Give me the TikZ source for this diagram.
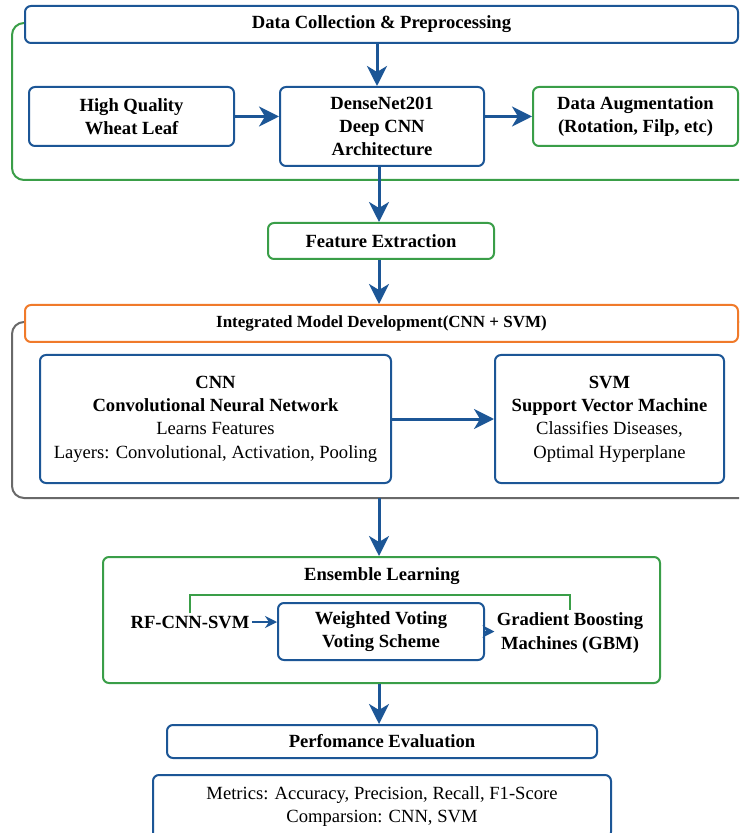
\documentclass[tikz,border=0pt]{standalone}
\usepackage{fontspec}
\setmainfont{Liberation Serif}
\usepackage{xcolor}
\usetikzlibrary{positioning, arrows.meta}

\definecolor{flowblue}{RGB}{28,86,150}
\definecolor{flowgreen}{RGB}{58,158,72}
\definecolor{floworange}{RGB}{240,122,42}
\definecolor{flowgray}{RGB}{105,105,105}
\newcommand{\flowfont}{\fontsize{9.3pt}{11.7pt}\selectfont}

\begin{document}
\begin{tikzpicture}[
x=0.5pt, y=-0.5pt,
box/.style={rectangle, draw=flowblue, fill=white, line width=1pt, rounded corners=3pt, align=center, inner sep=2pt, font=\flowfont\bfseries},
gbox/.style={box, draw=flowgreen},
obox/.style={box, draw=floworange},
txt/.style={align=center, inner sep=1pt, font=\flowfont\bfseries},
outer/.style={draw=#1, line width=1pt, rounded corners=6pt},
arrow/.style={-{Stealth[length=10pt,width=10pt,inset=3pt]}, line width=1.5pt, flowblue},
sarrow/.style={-{Stealth[length=6pt,width=6pt,inset=2pt]}, line width=1pt, flowblue},
bracket/.style={flowgreen, line width=1pt}
]
\useasboundingbox (0,0) rectangle (739,833);
\clip (0,0) rectangle (739,833);

% Contenedores
\draw[outer=flowgreen] (12,23) rectangle (790,180);
\draw[outer=flowgray] (12,322) rectangle (790,498);
\coordinate (imdbot) at (379,498);

% Nivel 1 - Datos
\node[box, minimum width=356.5pt, minimum height=18.5pt] (collect) at (381.5,24.5) {Data Collection \& Preprocessing};

% Nivel 2 - Preprocesado
\node[box, minimum width=102.5pt, minimum height=29.5pt] (hq) at (131.5,116.5) {High Quality\\ Wheat Leaf};
\node[box, minimum width=102pt, minimum height=39.5pt] (dense) at (382,126.5) {DenseNet201\\ Deep CNN\\ Architecture};
\node[gbox, minimum width=102.5pt, minimum height=29.5pt] (aug) at (635.5,116.5) {Data Augmentation\\ (Rotation, Filp, etc)};

% Nivel 3 - Caracteristicas
\node[gbox, minimum width=113pt, minimum height=18pt] (feat) at (381,241) {Feature Extraction};

% Nivel 4 - Modelo integrado
\node[obox, minimum width=356.5pt, minimum height=18.5pt, font=\fontsize{8.5pt}{10pt}\selectfont\bfseries] (integ) at (381.5,323.5) {Integrated Model Development(CNN + SVM)};
\node[box, minimum width=175.5pt, minimum height=64pt, font=\flowfont] (cnn) at (215.5,419) {\textbf{CNN}\\ \textbf{Convolutional Neural Network}\\ Learns Features\\ Layers: Convolutional, Activation, Pooling};
\node[box, minimum width=114.5pt, minimum height=64pt, font=\flowfont] (svm) at (609.5,419) {\textbf{SVM}\\ \textbf{Support Vector Machine}\\ Classifies Diseases,\\ Optimal Hyperplane};

% Nivel 5 - Ensemble
\node[gbox, minimum width=278.5pt, minimum height=63pt] (ens) at (381.5,620) {};
\node[txt] (enstitle) at (382,576) {Ensemble Learning};
\node[txt] (rf) at (190,622) {RF-CNN-SVM};
\node[box, minimum width=103pt, minimum height=28.5pt] (vote) at (381,631.5) {Weighted Voting\\ Voting Scheme};
\node[txt] (gbm) at (570,633) {Gradient Boosting\\ Machines (GBM)};

% Nivel 6 - Evaluacion
\node[box, minimum width=215pt, minimum height=16.5pt] (perf) at (382,741.5) {Perfomance Evaluation};
\node[box, minimum width=229pt, minimum height=31.5pt, font=\flowfont] (metr) at (382,806.5) {Metrics: Accuracy, Precision, Recall, F1-Score\\ Comparsion: CNN, SVM};

% Flechas
\draw[arrow] (collect.south -| 377,0) -- (dense.north -| 377,0);
\draw[arrow] (hq.east) -- (hq.east -| dense.west);
\draw[arrow] (aug.west -| dense.east) -- (aug.west);
\draw[arrow] (dense.south -| 379,0) -- (feat.north -| 379,0);
\draw[arrow] (feat.south -| 379,0) -- (integ.north -| 379,0);
\draw[arrow] (cnn) -- (svm);
\draw[arrow] (imdbot) -- (ens.north -| imdbot);

\draw[sarrow] (rf.east) -- (rf.east -| vote.west);
\draw[sarrow] (vote.east) -- (vote.east -| gbm.west);
\draw[bracket] (rf.north) -- ++(0,-18) -| (gbm.north);

\draw[arrow] (ens.south -| 379,0) -- (perf.north -| 379,0);

\end{tikzpicture}
\end{document}
